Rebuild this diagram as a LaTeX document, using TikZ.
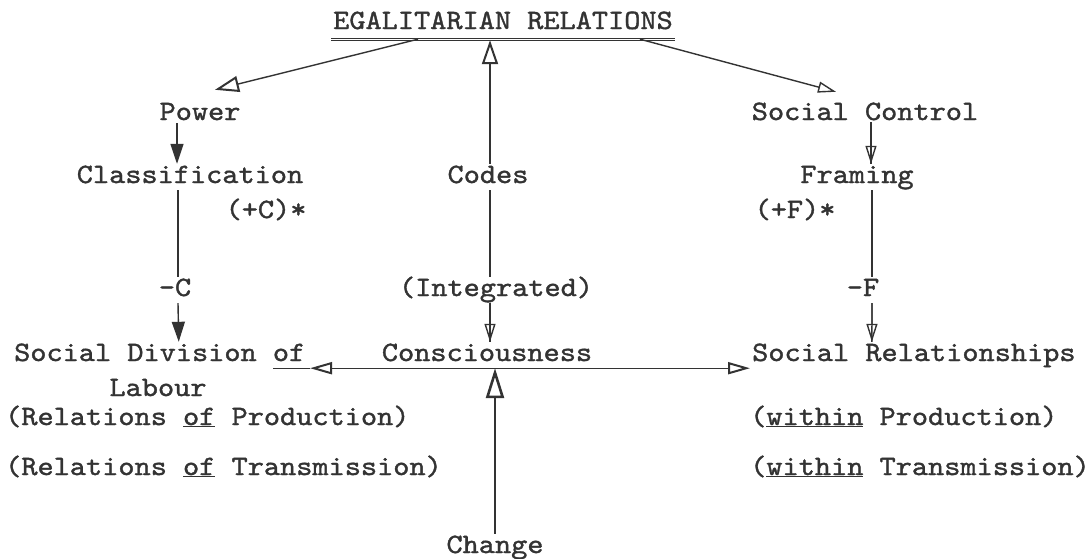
\documentclass[tikz,border=0pt]{standalone}
\usepackage{fontspec}
\usetikzlibrary{arrows.meta}
\newfontfamily\tw[FakeStretch=1.1,FakeBold=1.3]{lmmono10-regular.otf}
\definecolor{ink}{gray}{0.2}
\begin{document}
\begin{tikzpicture}[x=1pt,y=-1pt,
  lbl/.style={inner sep=2pt, text=ink, anchor=base, text height=17pt, text depth=5pt,
              font=\tw\fontsize{28}{30}\selectfont},
  lblw/.style={lbl, anchor=base west},
  wire/.style={draw=ink, line width=1.4pt},
  fillhead/.style={wire, -{Triangle[length=20pt,width=13pt]}},
  openhead/.style={wire, -{Triangle[open,length=18pt,width=11pt]}},
  bighead/.style={wire, -{Triangle[open,length=24pt,width=16pt,line width=2pt]}},
  sidehead/.style={wire, -{Triangle[open,length=22pt,width=12pt,line width=2pt]}},
]
\useasboundingbox (0,0) rectangle (1090,558);

% --- labels
\node[lbl] (title) at (503,29) {EGALITARIAN RELATIONS};
\node[lbl] (power) at (200,120) {Power};
\node[lbl] (sc)    at (865,120) {Social Control};
\node[lbl] (class) at (190,183) {Classification};
\node[lbl] (codes) at (488,183) {Codes};
\node[lbl] (fram)  at (857,183) {Framing};
\node[lbl] (pc)    at (266,218) {(+C)*};
\node[lbl] (pf)    at (795,218) {(+F)*};
\node[lbl] (mc)    at (175,296) {-C};
\node[lbl] (integ) at (496,296) {(Integrated)};
\node[lbl] (mf)    at (863,296) {-F};
\node[lblw] (sdl)  at (12,361) {Social Division of};
\node[lbl] (lab)   at (158,396) {Labour};
\node[lbl] (consc) at (487,361) {Consciousness};
\node[lblw] (sr)   at (750,361) {Social Relationships};
\node[lblw] (rp)   at (3,425) {(Relations \underline{of} Production)};
\node[lblw] (rt)   at (3,475) {(Relations \underline{of} Transmission)};
\node[lblw] (wp)   at (748,425) {(\underline{within} Production)};
\node[lblw] (wt)   at (748,475) {(\underline{within} Transmission)};
\node[lbl] (chg)   at (495,553) {Change};

% --- heavy underline of the heading
\draw[wire, line width=1.3pt] ([yshift=-2pt]title.south west) -- ([yshift=-2pt]title.south east);
\draw[wire, line width=1.3pt] ([yshift=-4pt]title.south west) -- ([yshift=-4pt]title.south east);

% --- from the heading to the three columns
\draw[bighead] ([xshift=-85pt,yshift=-3pt]title.south) -- ([xshift=15pt,yshift=11pt]power.north);
\draw[openhead] ([xshift=137pt,yshift=-3pt]title.south) -- ([xshift=-29pt,yshift=9pt]sc.north);
\draw[bighead] ([xshift=2pt]codes.north) -- ([xshift=-13pt,yshift=-4pt]title.south);

% --- left column
\draw[fillhead] ([xshift=-23pt,yshift=4pt]power.south) -- ([xshift=-13pt]class.north);
\draw[wire] ([xshift=-12pt]class.south) -- ([xshift=3pt]mc.north);
\draw[fillhead] ([xshift=3pt]mc.south) -- ([xshift=19pt]sdl.north);

% --- centre column
\draw[wire] ([xshift=2pt]codes.south) -- ([xshift=-6pt]integ.north);
\draw[openhead] ([xshift=-6pt]integ.south) -- ([xshift=3pt]consc.north);
\draw[wire] ([xshift=-6pt]integ.south) -- ([xshift=3pt]consc.north);

% --- right column
\draw[openhead] ([xshift=6pt,yshift=5pt]sc.south) -- ([xshift=14pt]fram.north);
\draw[wire] ([xshift=6pt,yshift=5pt]sc.south) -- ([xshift=14pt]fram.north);
\draw[wire] ([xshift=15pt]fram.south) -- ([xshift=9pt]mf.north);
\draw[openhead] ([xshift=9pt]mf.south) -- ([xshift=-42pt]sr.north);
\draw[wire] ([xshift=9pt]mf.south) -- ([xshift=-42pt]sr.north);

% --- horizontal bar through Consciousness
\draw[sidehead] ([xshift=7pt]consc.south) -- ([xshift=-177pt]consc.south);
\draw[wire] ([xshift=-177pt]consc.south) -- ([xshift=-214pt]consc.south);
\draw[sidehead] ([xshift=7pt]consc.south) -- (sr.west |- consc.south);

% --- change pushing up into the bar
\draw[wire, -{Triangle[open,length=30pt,width=18pt,line width=2.6pt]}] (chg.north) -- (chg.north |- consc.south);
\end{tikzpicture}
\end{document}
